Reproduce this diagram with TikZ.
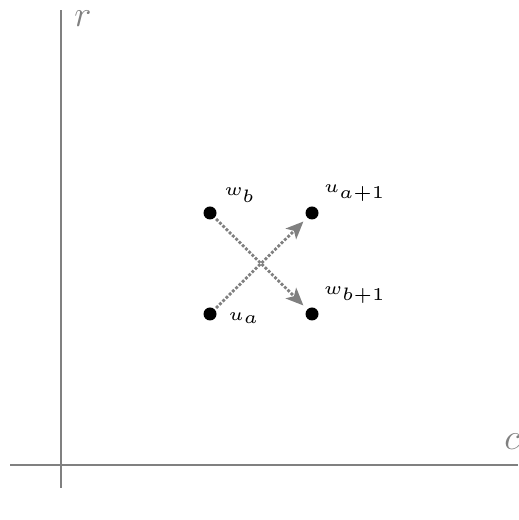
\documentclass[tikz,border=0pt]{standalone}
\usepackage{amsmath,amssymb}
\usetikzlibrary{arrows.meta,positioning}
\definecolor{axisgray}{HTML}{808080}
\definecolor{ink}{HTML}{000000}
\tikzset{
  axisline/.style={line width=1.7pt,color=axisgray},
  axislabel/.style={font=\huge,text=axisgray,inner sep=0pt},
  cell/.style={circle,fill=ink,inner sep=0pt,minimum size=0.26cm},
  celllabel/.style={font=\tiny,text=ink,inner sep=0pt,scale=2.05},
  swaparr/.style={-{Stealth[length=10pt,width=8.5pt,inset=2.5pt]},line width=1.6pt,color=axisgray,densely dotted,shorten >=3pt,shorten <=1pt},
}
\begin{document}
\begin{tikzpicture}
  \useasboundingbox (0,0) rectangle (10.36,10.4);
  % axes
  \coordinate (rtop) at (1.22,10.2);
  \coordinate (rbot) at (1.22,0.64);
  \coordinate (cleft) at (0.2,1.1);
  \coordinate (cright) at (10.36,1.1);
  \draw[axisline] (rbot) -- (rtop);
  \draw[axisline] (cleft) -- (cright);
  \node[axislabel] (rlab) at (1.66,10.02) {$r$};
  \node[axislabel] (clab) at (10.24,1.56) {$c$};

  % cells
  \node[cell] (wb)  at (4.2,6.14) {};
  \node[cell] (ua1) at (6.24,6.14) {};
  \node[cell] (ua)  at (4.2,4.12) {};
  \node[cell] (wb1) at (6.24,4.12) {};

  \node[celllabel] (wblab)  at (4.8,6.5) {$w_b$};
  \node[celllabel] (ua1lab) at (7.1,6.54) {$u_{a+1}$};
  \node[celllabel] (wb1lab) at (7.1,4.5) {$w_{b+1}$};
  \node[celllabel] (ualab)  at (4.88,4.04) {$u_a$};

  \draw[swaparr] (ua) -- (ua1);
  \draw[swaparr] (wb) -- (wb1);
\end{tikzpicture}
\end{document}
